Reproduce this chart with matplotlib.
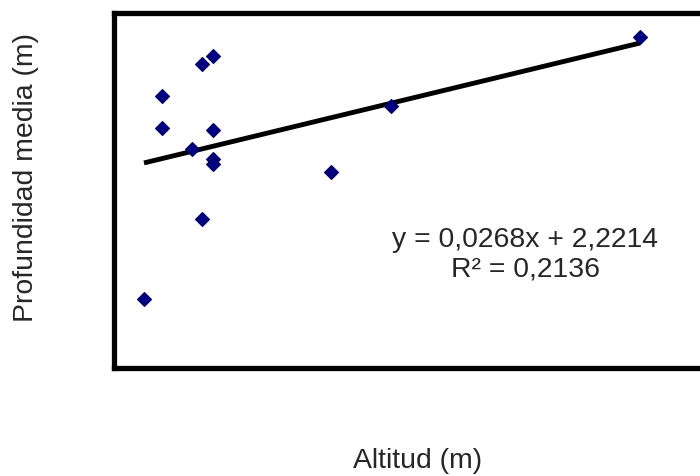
import matplotlib
matplotlib.use("Agg")
import matplotlib.pyplot as plt
import numpy as np

plt.rcParams['font.family'] = ['Liberation Sans', 'DejaVu Sans']

# Data
altitud = [3.0, 4.8, 4.8, 8.8, 9.9, 9.9, 7.8, 9.9, 9.9, 8.8, 21.7, 27.7, 52.6]
profundidad = [0.78, 3.06, 2.70, 3.42, 3.51, 2.68, 2.46, 2.35, 2.30, 1.68, 2.21, 2.95, 3.72]
eq_text = "y = 0,0268x + 2,2214"
r2_text = "R² = 0,2136"
x_label = "Altitud (m)"
y_label = "Profundidad media (m)"

W, H = 700, 476
fig = plt.figure(figsize=(W / 100, H / 100), dpi=100)

left_px, right_px, top_px, bottom_px = 114, 714, 12.5, 368
ax = fig.add_axes([left_px / W, 1 - bottom_px / H,
                   (right_px - left_px) / W, (bottom_px - top_px) / H])
ax.set_xlim(0, 60)
ax.set_ylim(0, 4)
ax.set_xticks([])
ax.set_yticks([])
for s in ax.spines.values():
    s.set_linewidth(3.8)
    s.set_color('black')

x = np.array(altitud)
y = np.array(profundidad)
m, b = np.polyfit(x, y, 1)
xl = np.array([x.min(), x.max()])
ax.plot(xl, m * xl + b, color='black', lw=3.5, solid_capstyle='butt', zorder=2)
ax.plot(x, y, linestyle='none', marker='D', markersize=7,
        markerfacecolor='#000080', markeredgecolor='#000060', markeredgewidth=0.8,
        zorder=3, clip_on=False)

def fx(px):
    return px / W

def fy(py):
    return 1 - py / H

fs = 20.4
tc = '#262626'
fig.text(fx(525.5), fy(246.5), eq_text, ha='center', va='baseline', fontsize=fs, color=tc)
fig.text(fx(525.5), fy(276.5), r2_text, ha='center', va='baseline', fontsize=fs, color=tc)
fig.text(fx(418), fy(468), x_label, ha='center', va='baseline', fontsize=fs, color=tc)
fig.text(fx(33), fy(177), y_label, ha='center', va='baseline', rotation=90,
         rotation_mode='anchor', fontsize=fs, color=tc)

fig.savefig('out.png', dpi=100)
